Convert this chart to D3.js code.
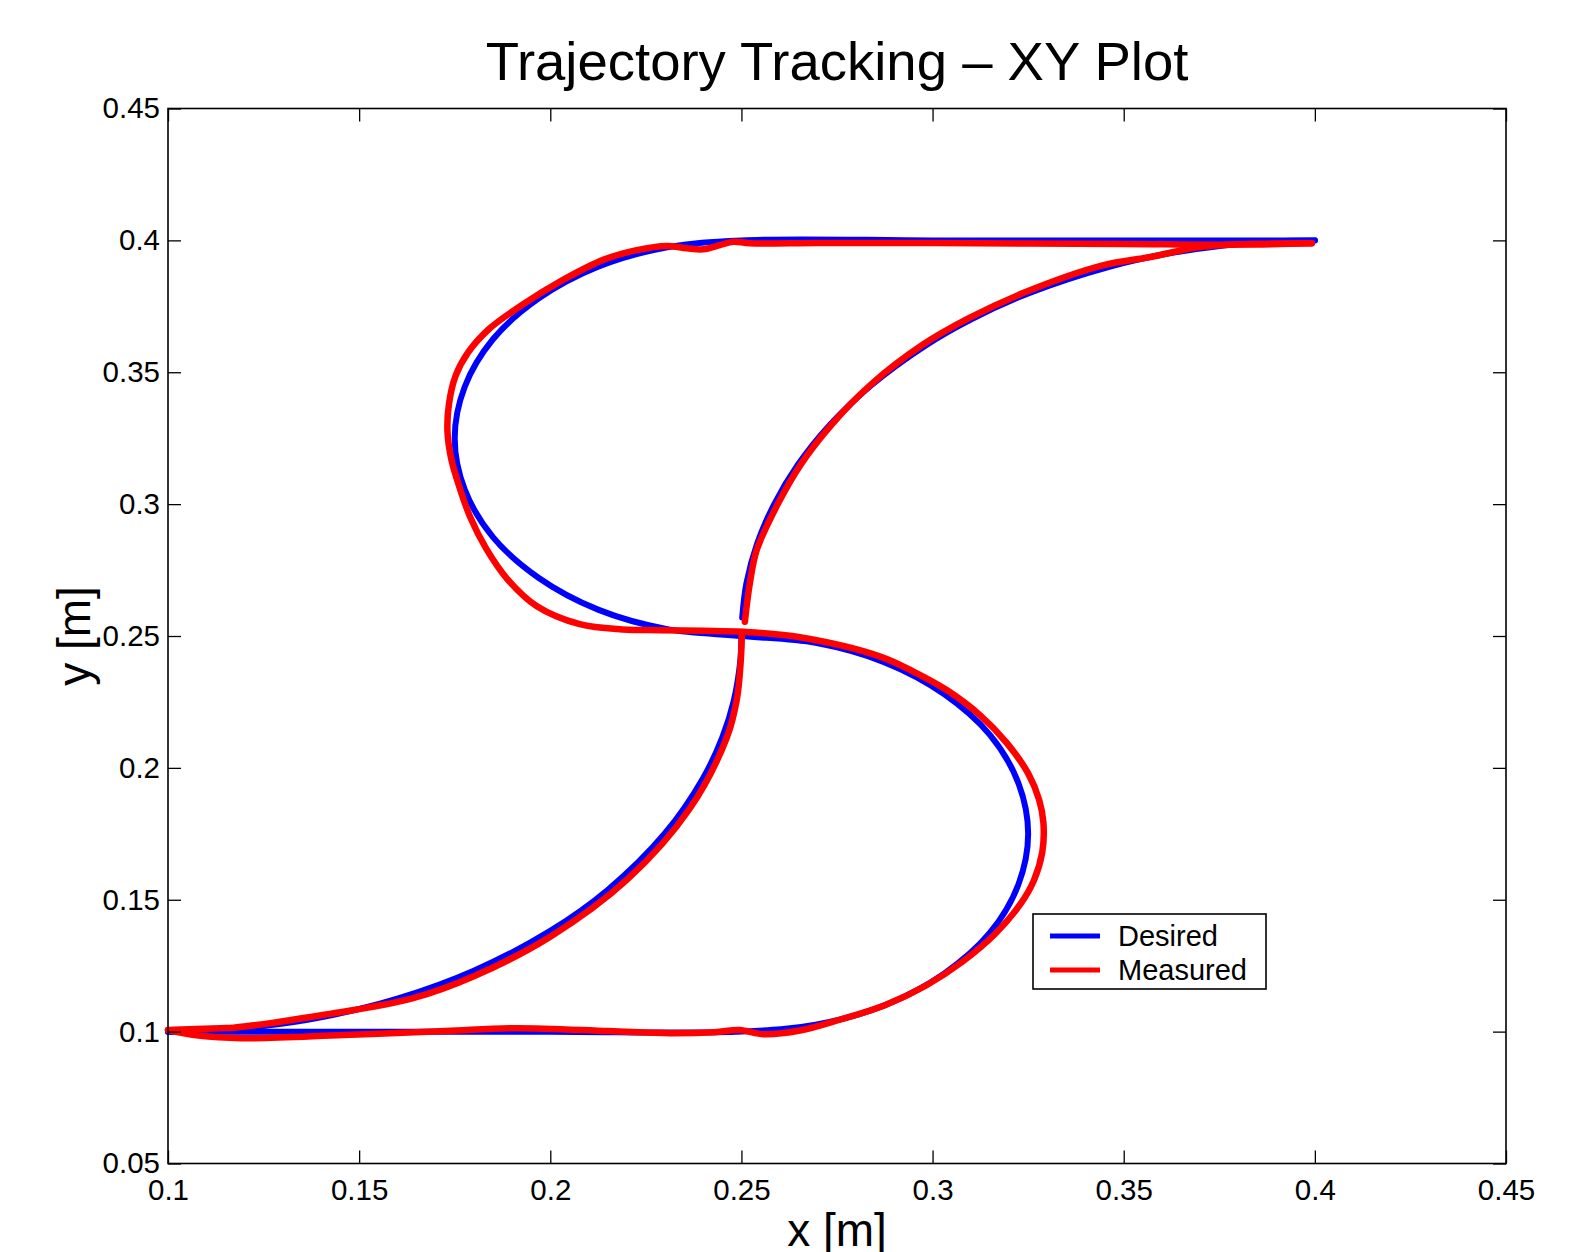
<!DOCTYPE html>
<html>
<head>
<meta charset="utf-8">
<script src="https://cdn.jsdelivr.net/npm/d3@7"></script>
<style>
  body { margin: 0; background: #fff; }
  svg { display: block; font-family: "Liberation Sans", Arial, Helvetica, sans-serif; }
</style>
</head>
<body>
<div id="chart"></div>
<script>
// tick values
const xTicks = [0.1, 0.15, 0.2, 0.25, 0.3, 0.35, 0.4, 0.45];
const yTicks = [0.05, 0.1, 0.15, 0.2, 0.25, 0.3, 0.35, 0.4, 0.45];

// desired path, in three pieces
const desiredUpper = [
  [0.2502, 0.257], [0.2513, 0.27], [0.2541, 0.285], [0.2586, 0.30], [0.2648, 0.315],
  [0.2731, 0.33], [0.2839, 0.345], [0.298, 0.36], [0.31, 0.37], [0.3252, 0.38],
  [0.3462, 0.39], [0.3616, 0.395], [0.3756, 0.398], [0.39, 0.3997], [0.4, 0.4]
];
const desiredLoop = [
  [0.4, 0.4], [0.35, 0.4], [0.3, 0.4], [0.25, 0.4],
  [0.2306, 0.3974], [0.2125, 0.39], [0.197, 0.378], [0.185, 0.3625], [0.1776, 0.3444],
  [0.175, 0.325], [0.1776, 0.3056], [0.185, 0.2875], [0.197, 0.272], [0.2125, 0.26],
  [0.2306, 0.2526], [0.25, 0.25],
  [0.2694, 0.2474], [0.2875, 0.24], [0.303, 0.228], [0.315, 0.2125], [0.3224, 0.1944],
  [0.325, 0.175], [0.3224, 0.1556], [0.315, 0.1375], [0.303, 0.122], [0.2875, 0.11],
  [0.2694, 0.1026], [0.25, 0.1],
  [0.2, 0.1], [0.15, 0.1], [0.1, 0.1]
];
const desiredLower = [
  [0.1, 0.1], [0.11, 0.1003], [0.125, 0.1021], [0.14, 0.1054], [0.16, 0.1125],
  [0.18, 0.1231], [0.2, 0.1382], [0.215, 0.1537], [0.23, 0.1752], [0.24, 0.1962],
  [0.245, 0.2116], [0.248, 0.2255], [0.2497, 0.2405], [0.25, 0.25]
];

// measured path
const measuredUpper = [
  [0.2509, 0.2554], [0.2522, 0.27], [0.254, 0.2826], [0.2595, 0.30], [0.2655, 0.315],
  [0.2735, 0.33], [0.284, 0.3455], [0.2975, 0.3605], [0.3095, 0.3705], [0.3245, 0.3805],
  [0.3445, 0.3905], [0.357, 0.3937], [0.37, 0.3975], [0.385, 0.3987], [0.3992, 0.3989]
];
const measuredLoop = [
  [0.3992, 0.3989], [0.38, 0.3984], [0.35, 0.3986], [0.3, 0.399], [0.27, 0.399],
  [0.2522, 0.3989], [0.2479, 0.3995], [0.2444, 0.3982], [0.24, 0.3966], [0.2357, 0.397],
  [0.2304, 0.3979], [0.2226, 0.3963], [0.214, 0.3927], [0.2032, 0.3849], [0.1923, 0.3752],
  [0.1839, 0.3663], [0.1785, 0.3575], [0.1752, 0.3485], [0.1735, 0.338], [0.1731, 0.3277],
  [0.1741, 0.3171], [0.1762, 0.3066], [0.1791, 0.2949], [0.1832, 0.2832], [0.1887, 0.2717],
  [0.1965, 0.2613], [0.2077, 0.2545], [0.2189, 0.2525], [0.2288, 0.2522], [0.24, 0.252],
  [0.2505, 0.2516], [0.2653, 0.2495], [0.2863, 0.2422], [0.295, 0.2365], [0.3037, 0.2295],
  [0.3124, 0.22], [0.3195, 0.2093], [0.325, 0.1979], [0.3279, 0.1878], [0.329, 0.1791],
  [0.3287, 0.1681], [0.3265, 0.1573], [0.323, 0.1484], [0.3162, 0.1368], [0.3078, 0.1265],
  [0.2983, 0.1175], [0.2875, 0.11], [0.2757, 0.1045], [0.2653, 0.1004], [0.2559, 0.099],
  [0.2495, 0.1006], [0.243, 0.0998], [0.2313, 0.0994], [0.2153, 0.1002], [0.1907, 0.1013],
  [0.1726, 0.1002], [0.1459, 0.0987], [0.1192, 0.0975], [0.108, 0.0985], [0.1, 0.1006]
];
const measuredLower = [
  [0.1, 0.1006], [0.1138, 0.1013], [0.1172, 0.1015], [0.1405, 0.1063], [0.1639, 0.1126],
  [0.18, 0.121], [0.2, 0.136], [0.22, 0.1575], [0.2365, 0.1846], [0.2462, 0.2116],
  [0.2488, 0.226], [0.2498, 0.24], [0.2501, 0.2504]
];

const series = [
  {name: "Desired", color: "#0000ff", width: 6, parts: [desiredUpper, desiredLoop, desiredLower]},
  {name: "Measured", color: "#ff0000", width: 6.5, parts: [measuredUpper, measuredLoop, measuredLower]}
];

const W = 1590, H = 1252;
const plotLeft = 168, plotRight = 1506, plotTop = 108.5, plotBottom = 1163.5;
const tickLen = 13;

const svg = d3.select("#chart").append("svg")
  .attr("width", W)
  .attr("height", H);

const x = d3.scaleLinear().domain([0.1, 0.45]).range([plotLeft, plotRight]);
const y = d3.scaleLinear().domain([0.05, 0.45]).range([plotBottom, plotTop]);

// Curves
const line = d3.line()
  .x(function(d) { return x(d[0]); })
  .y(function(d) { return y(d[1]); })
  .curve(d3.curveCatmullRom.alpha(0.5));

const plot = svg.append("g");
series.forEach(function(s) {
  plot.selectAll(null)
    .data(s.parts)
    .enter()
    .append("path")
    .attr("d", line)
    .attr("fill", "none")
    .attr("stroke", s.color)
    .attr("stroke-width", s.width)
    .attr("stroke-linecap", "round")
    .attr("stroke-linejoin", "round");
});

// Axes: bottom/left with labels, top/right ticks only
const fmt = function(d) { return String(+d.toFixed(2)); };

const xAxis = svg.append("g")
  .attr("transform", "translate(0," + plotBottom + ")")
  .call(d3.axisBottom(x).tickValues(xTicks).tickSize(-tickLen).tickFormat(fmt));
const xAxisTop = svg.append("g")
  .attr("transform", "translate(0," + plotTop + ")")
  .call(d3.axisTop(x).tickValues(xTicks).tickSize(-tickLen).tickFormat(""));
const yAxis = svg.append("g")
  .attr("transform", "translate(" + plotLeft + ",0)")
  .call(d3.axisLeft(y).tickValues(yTicks).tickSize(-tickLen).tickFormat(fmt));
const yAxisRight = svg.append("g")
  .attr("transform", "translate(" + plotRight + ",0)")
  .call(d3.axisRight(y).tickValues(yTicks).tickSize(-tickLen).tickFormat(""));

[xAxis, xAxisTop, yAxis, yAxisRight].forEach(function(g) {
  g.select(".domain").remove();
  g.selectAll(".tick line").attr("stroke", "#000").attr("stroke-width", 1.3);
  g.selectAll("text")
    .attr("fill", "#000")
    .attr("font-size", 29.5)
    .attr("font-family", "'Liberation Sans', Arial, sans-serif");
});
xAxis.selectAll("text").attr("dy", 0).attr("y", 36.5);
yAxis.selectAll("text").attr("x", -8);

// Box
svg.append("rect")
  .attr("x", plotLeft)
  .attr("y", plotTop)
  .attr("width", plotRight - plotLeft)
  .attr("height", plotBottom - plotTop)
  .attr("fill", "none")
  .attr("stroke", "#000")
  .attr("stroke-width", 1.6);

// Title and labels
svg.append("text")
  .text("Trajectory Tracking \u2013 XY Plot")
  .attr("x", (plotLeft + plotRight) / 2)
  .attr("y", 80)
  .attr("text-anchor", "middle")
  .attr("font-size", 54.5)
  .attr("fill", "#000");

svg.append("text")
  .text("x [m]")
  .attr("x", (plotLeft + plotRight) / 2)
  .attr("y", 1246)
  .attr("text-anchor", "middle")
  .attr("font-size", 46)
  .attr("fill", "#000");

svg.append("text")
  .text("y [m]")
  .attr("transform", "translate(90," + ((plotTop + plotBottom) / 2) + ") rotate(-90)")
  .attr("text-anchor", "middle")
  .attr("font-size", 46)
  .attr("fill", "#000");

// Legend
const legend = svg.append("g");
legend.append("rect")
  .attr("x", 1033)
  .attr("y", 914)
  .attr("width", 233)
  .attr("height", 75)
  .attr("fill", "#fff")
  .attr("stroke", "#000")
  .attr("stroke-width", 1.6);

const items = legend.selectAll("g.item")
  .data(series)
  .enter()
  .append("g")
  .attr("class", "item")
  .attr("transform", function(d, i) { return "translate(0," + (936 + i * 34) + ")"; });

items.append("line")
  .attr("x1", 1050)
  .attr("x2", 1100)
  .attr("y1", 0)
  .attr("y2", 0)
  .attr("stroke", function(d) { return d.color; })
  .attr("stroke-width", 5);

items.append("text")
  .text(function(d) { return d.name; })
  .attr("x", 1118)
  .attr("y", 10)
  .attr("font-size", 29)
  .attr("fill", "#000");
</script>
</body>
</html>
